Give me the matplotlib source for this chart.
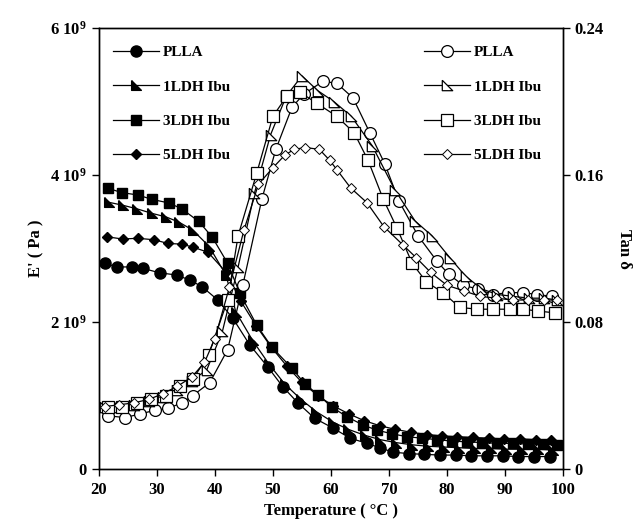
import matplotlib
matplotlib.use("Agg")
import matplotlib.pyplot as plt

plt.rcParams['font.family'] = ['Liberation Serif', 'DejaVu Serif']
plt.rcParams['font.weight'] = 'bold'
plt.rcParams['mathtext.fontset'] = 'custom'
plt.rcParams['mathtext.rm'] = 'Liberation Serif:bold'
plt.rcParams['mathtext.default'] = 'rm'

# storage modulus E' (x 1e9 Pa), filled symbols
t_plla_E = [21.0, 23.1, 25.7, 27.6, 30.5, 33.4, 35.7, 37.8, 40.5, 43.1, 46.0, 49.1, 51.7, 54.3, 57.2,
            60.3, 63.3, 66.2, 68.4, 70.7, 73.4, 76.1, 78.8, 81.5, 84.2, 86.9, 89.6, 92.3, 95.0, 97.7]
e_plla = [2.80, 2.75, 2.75, 2.73, 2.67, 2.64, 2.57, 2.48, 2.30, 2.05, 1.69, 1.39, 1.12, 0.90, 0.69,
          0.56, 0.42, 0.35, 0.29, 0.23, 0.21, 0.20, 0.19, 0.19, 0.18, 0.18, 0.18, 0.17, 0.17, 0.17]

t_1ldh_E = [21.7, 24.1, 26.6, 29.1, 31.6, 33.8, 36.2, 39.0, 41.9, 43.6, 46.5, 49.3, 52.0, 54.8, 57.5,
            60.3, 63.0, 65.8, 68.5, 71.2, 74.0, 76.7, 79.4, 82.1, 84.8, 87.5, 90.2, 92.9, 95.6, 98.3]
e_1ldh = [3.63, 3.59, 3.54, 3.48, 3.43, 3.36, 3.25, 3.03, 2.64, 2.14, 1.75, 1.43, 1.16, 0.95, 0.78,
          0.64, 0.54, 0.46, 0.40, 0.36, 0.33, 0.31, 0.30, 0.29, 0.28, 0.28, 0.27, 0.27, 0.27, 0.26]

t_3ldh_E = [21.6, 24.0, 26.7, 29.1, 32.1, 34.3, 37.2, 39.5, 42.2, 44.3, 47.2, 49.8, 53.3, 55.5, 57.8,
            60.2, 62.8, 65.5, 67.9, 70.5, 73.1, 75.7, 78.3, 80.9, 83.5, 86.1, 88.7, 91.3, 93.9, 96.5, 99.0]
e_3ldh = [3.82, 3.76, 3.73, 3.67, 3.62, 3.54, 3.37, 3.16, 2.80, 2.39, 1.96, 1.66, 1.37, 1.16, 1.01,
          0.84, 0.71, 0.60, 0.53, 0.48, 0.44, 0.42, 0.40, 0.38, 0.37, 0.36, 0.35, 0.35, 0.34, 0.34, 0.33]

t_5ldh_E = [21.4, 24.1, 26.7, 29.5, 31.9, 34.3, 36.2, 38.8, 41.9, 44.5, 47.1, 49.7, 52.4, 55.0, 57.7,
            60.4, 63.1, 65.7, 68.4, 71.1, 73.8, 76.5, 79.2, 81.8, 84.5, 87.2, 89.9, 92.6, 95.3, 98.0]
e_5ldh = [3.16, 3.13, 3.14, 3.12, 3.07, 3.06, 3.02, 2.95, 2.68, 2.28, 1.95, 1.66, 1.40, 1.18, 1.00,
          0.86, 0.75, 0.66, 0.59, 0.54, 0.50, 0.47, 0.45, 0.44, 0.43, 0.42, 0.41, 0.41, 0.40, 0.40]

# tan delta, open symbols
t_plla_T = [21.6, 24.5, 27.1, 29.7, 31.9, 34.3, 36.2, 39.1, 42.2, 44.8, 48.1, 50.5, 53.3, 55.3, 58.6,
            61.0, 63.8, 66.7, 69.3, 71.7, 75.0, 78.3, 80.3, 82.8, 85.3, 87.9, 90.5, 93.1, 95.5, 98.1]
tan_plla = [0.029, 0.028, 0.030, 0.032, 0.033, 0.036, 0.040, 0.047, 0.065, 0.100, 0.147, 0.174, 0.197,
            0.204, 0.211, 0.210, 0.202, 0.183, 0.166, 0.146, 0.127, 0.113, 0.106, 0.100, 0.098, 0.095,
            0.096, 0.096, 0.095, 0.094]

t_1ldh_T = [21.0, 23.5, 26.0, 28.7, 31.0, 33.5, 36.0, 38.6, 41.3, 44.0, 46.8, 49.6, 52.3, 55.0, 57.7,
            60.5, 63.5, 67.1, 71.0, 74.5, 77.4, 80.5, 83.2, 86.0, 88.7, 91.4, 94.1, 96.8, 99.0]
tan_1ldh = [0.034, 0.034, 0.035, 0.037, 0.039, 0.043, 0.048, 0.054, 0.075, 0.110, 0.150, 0.182, 0.203,
            0.214, 0.206, 0.200, 0.192, 0.176, 0.152, 0.135, 0.127, 0.115, 0.105, 0.098, 0.095, 0.094,
            0.093, 0.093, 0.092]

t_3ldh_T = [21.5, 24.0, 26.5, 29.0, 31.5, 34.0, 36.2, 38.9, 42.2, 44.0, 47.2, 50.0, 52.4, 54.7, 57.6,
            61.0, 64.0, 66.4, 69.0, 71.4, 74.0, 76.4, 79.3, 82.2, 85.2, 87.9, 90.9, 93.1, 95.7, 98.6]
tan_3ldh = [0.034, 0.034, 0.036, 0.038, 0.040, 0.045, 0.049, 0.062, 0.092, 0.127, 0.161, 0.192, 0.203,
            0.205, 0.199, 0.192, 0.183, 0.168, 0.147, 0.131, 0.112, 0.102, 0.096, 0.088, 0.087, 0.087,
            0.087, 0.087, 0.086, 0.085]

t_5ldh_T = [21.0, 23.5, 26.0, 28.7, 31.0, 33.5, 36.0, 38.2, 40.0, 42.5, 45.0, 47.5, 50.0, 52.1, 53.7,
            55.6, 58.0, 59.8, 61.0, 63.4, 66.2, 69.1, 72.4, 74.7, 77.2, 80.0, 82.9, 85.7, 88.5, 91.3,
            94.0, 96.8, 99.0]
tan_5ldh = [0.034, 0.035, 0.036, 0.038, 0.041, 0.045, 0.050, 0.058, 0.071, 0.099, 0.130, 0.155, 0.164,
            0.171, 0.174, 0.175, 0.174, 0.168, 0.163, 0.153, 0.145, 0.132, 0.122, 0.115, 0.107, 0.100,
            0.097, 0.094, 0.093, 0.092, 0.092, 0.092, 0.092]

labels = ['PLLA', '1LDH Ibu', '3LDH Ibu', '5LDH Ibu']

tri = [(-1, 1), (-1, -1), (1, -1), (-1, 1)]

fig = plt.figure(figsize=(6.42, 5.30), dpi=100)
ax = fig.add_axes([0.154, 0.115, 0.723, 0.832])
ax2 = ax.twinx()

kw = dict(color='black', lw=0.9)
ax.plot(t_plla_E, e_plla, marker='o', ms=8, mfc='black', mec='black', label=labels[0], **kw)
ax.plot(t_1ldh_E, e_1ldh, marker=tri, ms=7, mfc='black', mec='black', label=labels[1], **kw)
ax.plot(t_3ldh_E, e_3ldh, marker='s', ms=7.5, mfc='black', mec='black', label=labels[2], **kw)
ax.plot(t_5ldh_E, e_5ldh, marker='D', ms=5.5, mfc='black', mec='black', label=labels[3], **kw)

ax2.plot(t_plla_T, tan_plla, marker='o', ms=8.5, mfc='white', mec='black', mew=0.9, label=labels[0], **kw)
ax2.plot(t_1ldh_T, tan_1ldh, marker=tri, ms=7.5, mfc='white', mec='black', mew=0.9, label=labels[1], **kw)
ax2.plot(t_3ldh_T, tan_3ldh, marker='s', ms=8, mfc='white', mec='black', mew=0.9, label=labels[2], **kw)
ax2.plot(t_5ldh_T, tan_5ldh, marker='D', ms=5, mfc='white', mec='black', mew=0.7, label=labels[3], **kw)

ax.set_xlim(20, 100)
ax.set_ylim(0, 6)
ax2.set_ylim(0, 0.24)

ax.set_xticks([20, 30, 40, 50, 60, 70, 80, 90, 100])
ax.set_yticks([0, 2, 4, 6])
ax.set_yticklabels(['0', r'2 10$^9$', r'4 10$^9$', r'6 10$^9$'])
ax2.set_yticks([0, 0.08, 0.16, 0.24])
ax2.set_yticklabels(['0', '0.08', '0.16', '0.24'])

for a in (ax, ax2):
    a.tick_params(direction='out', length=5, width=1, labelsize=12)
    for s in a.spines.values():
        s.set_linewidth(1)
ax.tick_params(axis='x', pad=4)

ax.set_xlabel('Temperature ( °C )', fontsize=12, fontweight='bold', labelpad=4)
ax.set_ylabel("E' ( Pa )", fontsize=12, fontweight='bold', labelpad=4)
ax2.set_ylabel('Tan δ', fontsize=12, fontweight='bold', rotation=270, labelpad=20)

ax.legend(loc='upper left', bbox_to_anchor=(0.03, 0.96), frameon=False, fontsize=11,
          handlelength=3.0, labelspacing=1.35, borderaxespad=0, borderpad=0, handletextpad=0.3)
ax2.legend(loc='upper left', bbox_to_anchor=(0.70, 0.96), frameon=False, fontsize=11,
           handlelength=3.0, labelspacing=1.35, borderaxespad=0, borderpad=0, handletextpad=0.3)

fig.savefig('out.png', dpi=100)
